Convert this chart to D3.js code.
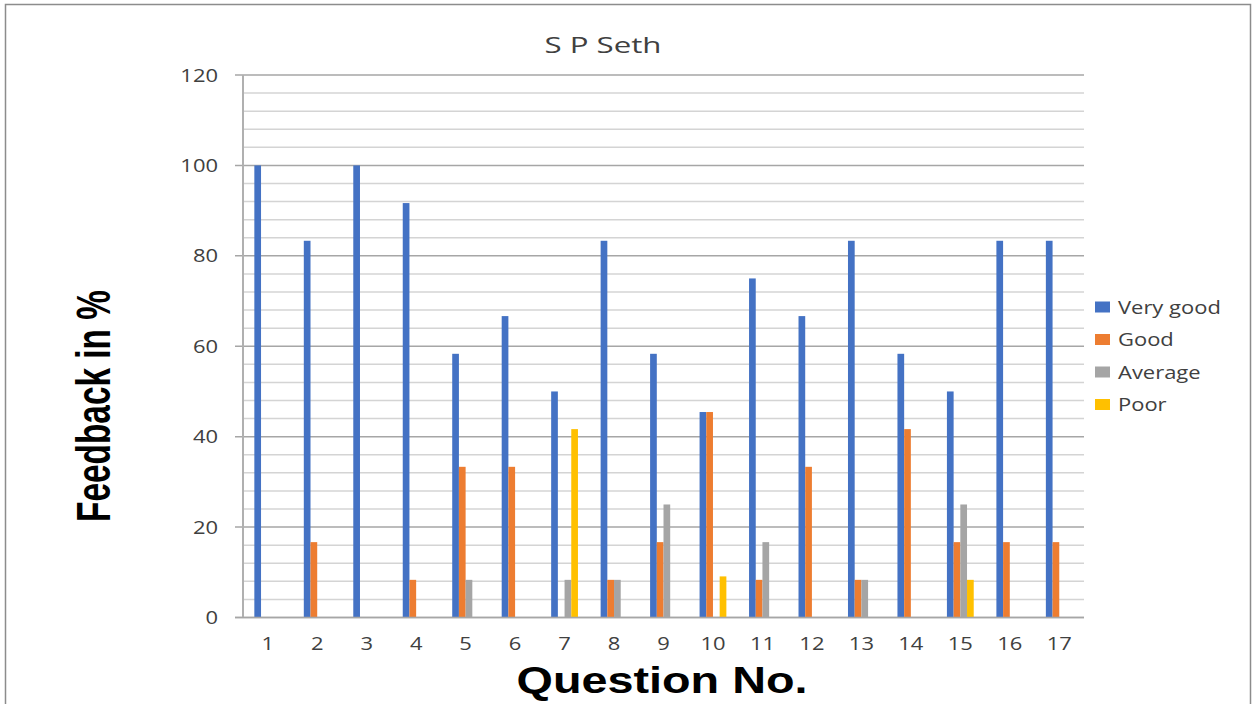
<!DOCTYPE html>
<html>
<head>
<meta charset="utf-8">
<script src="https://cdn.jsdelivr.net/npm/d3@7"></script>
<style>
    body { margin: 0; background: #fff; }
    text { font-family: "Open Sans", sans-serif; fill: #404040; }
</style>
</head>
<body>
<div id="chart"></div>
<script>
// data
questions = ["1", "2", "3", "4", "5", "6", "7", "8", "9", "10", "11", "12", "13", "14", "15", "16", "17"]
series = ["Very good", "Good", "Average", "Poor"]
very_good = [100, 83.33, 100, 91.67, 58.33, 66.67, 50, 83.33, 58.33, 45.45, 75, 66.67, 83.33, 58.33, 50, 83.33, 83.33]
good = [0, 16.67, 0, 8.33, 33.33, 33.33, 0, 8.33, 16.67, 45.45, 8.33, 33.33, 8.33, 41.67, 16.67, 16.67, 16.67]
average = [0, 0, 0, 0, 8.33, 0, 8.33, 8.33, 25, 0, 16.67, 0, 8.33, 0, 25, 0, 0]
poor = [0, 0, 0, 0, 0, 0, 41.67, 0, 0, 9.09, 0, 0, 0, 0, 8.33, 0, 0]
y_ticks = [0, 20, 40, 60, 80, 100, 120]
colors = ["#4472C4", "#ED7D31", "#A5A5A5", "#FFC000"]

var W = 1253, H = 704
// note: "top" is taken by window.top, so plot_ names
var plot_left = 243, plot_right = 1084, plot_top = 75, plot_bottom = 617.5
var sx = 1.22 // text in the picture looks stretched sideways

var svg = d3.select("#chart").append("svg")
    .attr("width", W)
    .attr("height", H)

// outer border
svg.append("rect")
    .attr("x", 5.5).attr("y", 4.5)
    .attr("width", 1245).attr("height", 720)
    .attr("fill", "none")
    .attr("stroke", "#8c8c8c")
    .attr("stroke-width", 1.5)

var x = d3.scaleBand().domain(questions).range([plot_left, plot_right]).padding(0)
var bw = x.bandwidth()
var x1 = d3.scaleBand().domain(series).range([bw / 2 - 13.4, bw / 2 + 13.4]).padding(0)
var y = d3.scaleLinear().domain([0, 120]).range([plot_bottom, plot_top])

// minor grid every 4
var minor = d3.range(4, 120, 4).filter(function (v) { return v % 20 != 0 })
svg.append("g").selectAll("line").data(minor).enter().append("line")
    .attr("x1", plot_left).attr("x2", plot_right)
    .attr("y1", function (d) { return y(d) }).attr("y2", function (d) { return y(d) })
    .attr("stroke", "#d4d4d4").attr("stroke-width", 1.5)

// major grid + ticks
svg.append("g").selectAll("line").data(y_ticks).enter().append("line")
    .attr("x1", plot_left - 8).attr("x2", plot_right)
    .attr("y1", function (d) { return y(d) }).attr("y2", function (d) { return y(d) })
    .attr("stroke", "#a6a6a6").attr("stroke-width", 1.5)

// y axis line
svg.append("line")
    .attr("x1", plot_left).attr("x2", plot_left)
    .attr("y1", plot_top).attr("y2", plot_bottom)
    .attr("stroke", "#b0b0b0").attr("stroke-width", 2)

// bars
var all = [very_good, good, average, poor]
var groups = svg.append("g").selectAll("g").data(questions).enter().append("g")
    .attr("transform", function (d) { return "translate(" + x(d) + ",0)" })
groups.selectAll("rect")
    .data(function (d, i) {
        return series.map(function (s, j) { return {key: s, value: all[j][i], c: colors[j]} })
    })
    .enter().append("rect")
    .attr("x", function (d) { return x1(d.key) })
    .attr("width", x1.bandwidth())
    .attr("y", function (d) { return y(d.value) })
    .attr("height", function (d) { return plot_bottom - y(d.value) })
    .attr("fill", function (d) { return d.c })

// bottom axis line over bars
svg.append("line")
    .attr("x1", plot_left - 8).attr("x2", plot_right)
    .attr("y1", plot_bottom).attr("y2", plot_bottom)
    .attr("stroke", "#a6a6a6").attr("stroke-width", 1.5)

function stretched(g, px, py, txt, size, anchor) {
    return g.append("text")
        .attr("transform", "translate(" + px + "," + py + ") scale(" + sx + ",1)")
        .attr("text-anchor", anchor)
        .style("font-size", size + "px")
        .text(txt)
}

// y tick labels
y_ticks.forEach(function (v) {
    stretched(svg, 218, y(v) + 6.5, v, 18, "end")
})

// x tick labels
questions.forEach(function (q) {
    stretched(svg, x(q) + bw / 2, 650, q, 18, "middle")
})

// title
svg.append("text")
    .attr("x", 603).attr("y", 53)
    .attr("text-anchor", "middle")
    .attr("textLength", 117)
    .attr("lengthAdjust", "spacingAndGlyphs")
    .style("font-size", "22px")
    .text("S P Seth")

// axis titles
svg.append("text")
    .attr("transform", "translate(110,406) rotate(-90)")
    .attr("text-anchor", "middle")
    .attr("textLength", 232)
    .attr("lengthAdjust", "spacingAndGlyphs")
    .style("font-family", "'Liberation Sans', Arial, sans-serif")
    .style("font-weight", "bold")
    .style("font-size", "49px")
    .style("fill", "#000")
    .text("Feedback in %")

svg.append("text")
    .attr("x", 662).attr("y", 693)
    .attr("text-anchor", "middle")
    .attr("textLength", 291)
    .attr("lengthAdjust", "spacingAndGlyphs")
    .style("font-family", "'Liberation Sans', Arial, sans-serif")
    .style("font-weight", "bold")
    .style("font-size", "37px")
    .style("fill", "#000")
    .text("Question No.")

// legend
var leg = svg.append("g")
series.forEach(function (s, i) {
    var ly = 307 + i * 32.5
    leg.append("rect")
        .attr("x", 1095).attr("y", ly - 5.5)
        .attr("width", 15).attr("height", 11)
        .attr("fill", colors[i])
    stretched(leg, 1118, ly + 6.5, s, 18, "start")
})
</script>
</body>
</html>
